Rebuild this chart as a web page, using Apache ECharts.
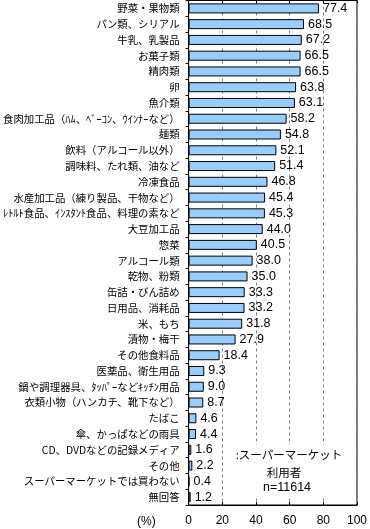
<!DOCTYPE html>
<html><head><meta charset="utf-8">
<script src="https://cdn.jsdelivr.net/npm/echarts@6/dist/echarts.min.js"></script>
<style>html,body{margin:0;padding:0;background:#fff}#c{width:370px;height:529px}</style>
</head><body><div id="c"></div>
<script>
const categories = [
  "野菜・果物類","パン類、シリアル","牛乳、乳製品","お菓子類","精肉類","卵","魚介類",
  "食肉加工品（ﾊﾑ、ﾍﾞｰｺﾝ、ｳｲﾝﾅｰなど）","麺類","飲料（アルコール以外）","調味料、たれ類、油など",
  "冷凍食品","水産加工品（練り製品、干物など）","ﾚﾄﾙﾄ食品、ｲﾝｽﾀﾝﾄ食品、料理の素など","大豆加工品",
  "惣菜","アルコール類","乾物、粉類","缶詰・びん詰め","日用品、消耗品","米、もち","漬物・梅干",
  "その他食料品","医薬品、衛生用品","鍋や調理器具、ﾀｯﾊﾟｰなどｷｯﾁﾝ用品","衣類小物（ハンカチ、靴下など）",
  "たばこ","傘、かっぱなどの雨具","CD、DVDなどの記録メディア","その他","スーパーマーケットでは買わない","無回答"
];
const values = [77.4,68.5,67.2,66.5,66.5,63.8,63.1,58.2,54.8,52.1,51.4,46.8,45.4,45.3,44.0,40.5,38.0,35.0,33.3,33.2,31.8,27.9,18.4,9.3,9.0,8.7,4.6,4.4,1.6,2.2,0.4,1.2];
const xTicks = [0,20,40,60,80,100];
const noteLines = [":スーパーマーケット","利用者","n=11614"];

const chart = echarts.init(document.getElementById('c'), null, {renderer:'canvas'});
const cjk = '"Noto Sans CJK JP", sans-serif';
const narrow = '"Liberation Sans Narrow", "Liberation Sans", sans-serif';
chart.setOption({
  animation:false,
  grid:{left:188, right:8, top:0.5, bottom:24, show:true, borderColor:'#000', borderWidth:1, containLabel:false},
  xAxis:[{
    type:'value', min:xTicks[0], max:xTicks[xTicks.length-1], interval:20, position:'bottom',
    axisLine:{show:true, lineStyle:{color:'#000'}},
    axisTick:{show:true, inside:true, length:3, lineStyle:{color:'#000'}},
    axisLabel:{margin:10, fontFamily:narrow, fontSize:12, color:'#000'},
    splitLine:{show:true, lineStyle:{color:'#808080', type:[3,3], width:1}}
  },{
    type:'value', min:xTicks[0], max:xTicks[xTicks.length-1], interval:20, position:'top',
    axisLine:{show:false}, axisTick:{show:true, inside:true, length:3, lineStyle:{color:'#000'}},
    axisLabel:{show:false}, splitLine:{show:false}
  }],
  yAxis:{
    type:'category', data:categories, inverse:true,
    axisLine:{show:true, lineStyle:{color:'#000'}},
    axisTick:{show:true, length:3, lineStyle:{color:'#000'}},
    axisLabel:{margin:9, fontFamily:cjk, fontSize:10.4, color:'#000'}
  },
  series:[{
    type:'bar', data:values, barWidth:10, xAxisIndex:0,
    itemStyle:{color:'#99CCFF', borderColor:'#000', borderWidth:1},
    label:{show:true, position:'right', distance:4, fontFamily:narrow, fontSize:12.5, color:'#000',
      formatter:p=>p.value.toFixed(1)}
  }],
  graphic:[
    {type:'text', left:137, top:516, style:{text:'(%)', font:'12px '+narrow, fill:'#000'}},
    {type:'rect', z:50, shape:{x:235, y:445, width:105, height:52}, style:{fill:'#fff'}},
    {type:'text', z:51, x:289, y:455, style:{text:noteLines[0], font:'11.5px '+cjk, fill:'#000', align:'center', verticalAlign:'middle'}},
    {type:'text', z:51, x:284, y:473, style:{text:noteLines[1], font:'11.5px '+cjk, fill:'#000', align:'center', verticalAlign:'middle'}},
    {type:'text', z:51, x:287, y:488, style:{text:noteLines[2], font:'12.5px '+narrow, fill:'#000', align:'center', verticalAlign:'middle'}}
  ]
});
</script></body></html>
